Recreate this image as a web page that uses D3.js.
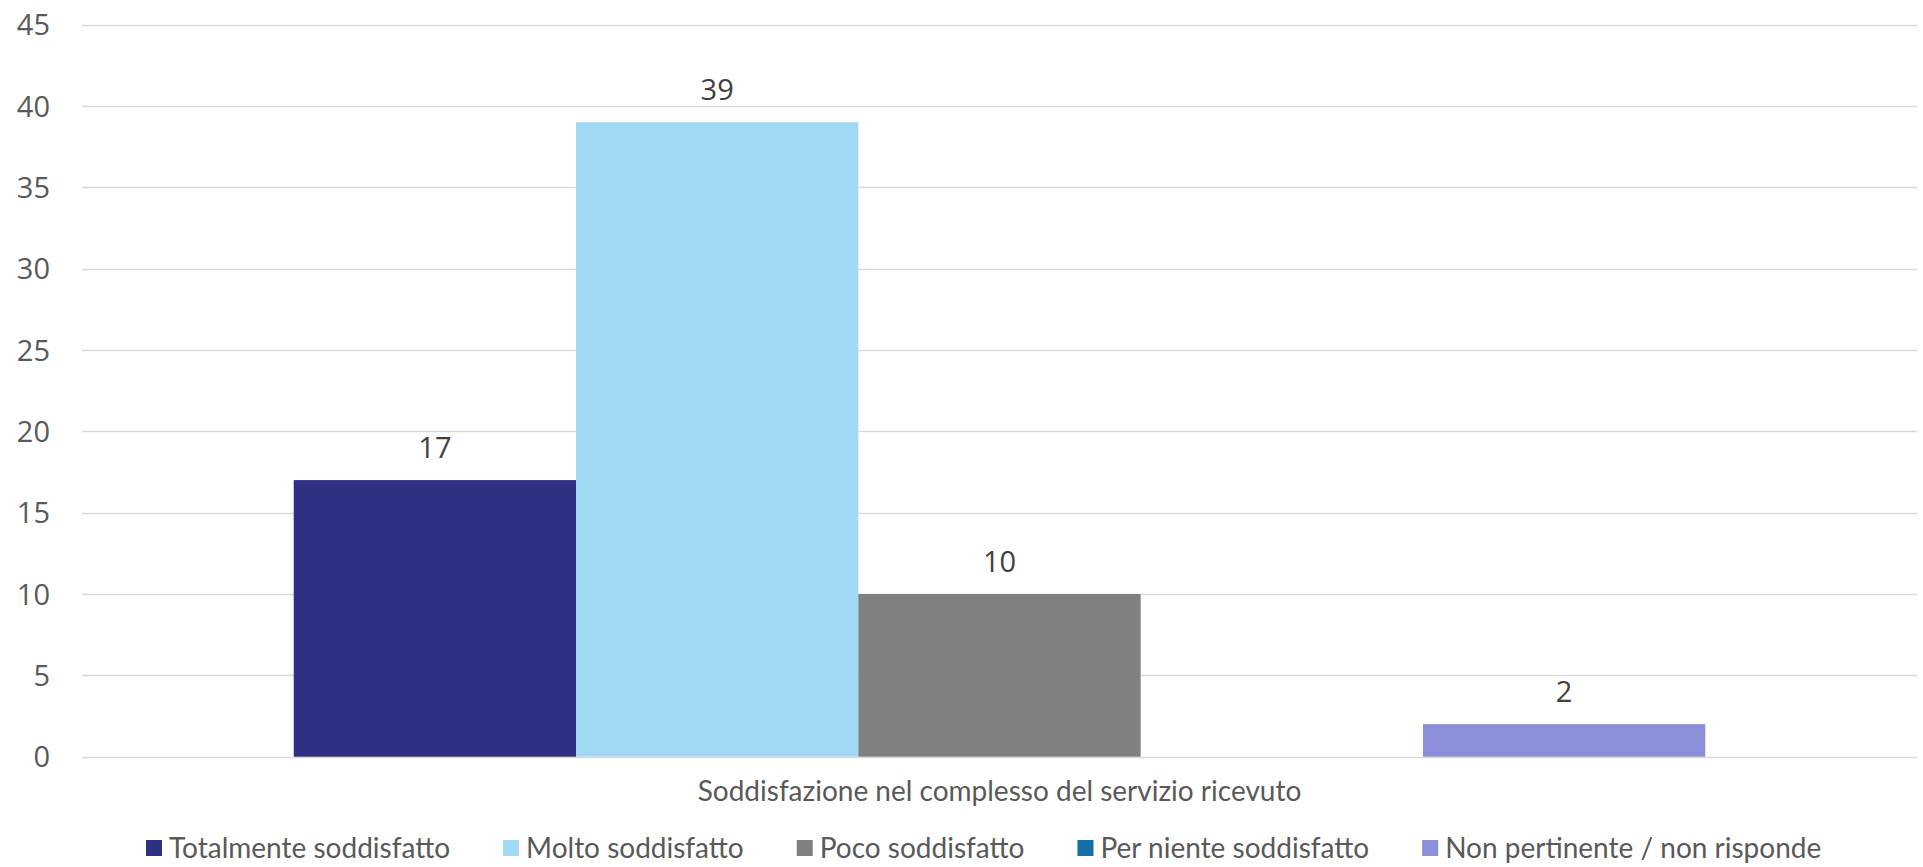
<!DOCTYPE html>
<html>
<head>
<meta charset="utf-8">
<script src="https://cdn.jsdelivr.net/npm/d3@7"></script>
<style>
  html, body { margin: 0; padding: 0; background: #ffffff; }
  svg { display: block; }
</style>
</head>
<body>
<svg id="chart" width="1923" height="867"></svg>
<script>
// Survey data: overall satisfaction with the service received
const categories = ["Soddisfazione nel complesso del servizio ricevuto"];
const seriesNames = [
  "Totalmente soddisfatto",
  "Molto soddisfatto",
  "Poco soddisfatto",
  "Per niente soddisfatto",
  "Non pertinente / non risponde"
];
const seriesValues = [17, 39, 10, 0, 2];
const seriesColors = ["#2E3084", "#A1D9F4", "#808080", "#1170AA", "#8B8ED8"];
const yTicks = [0, 5, 10, 15, 20, 25, 30, 35, 40, 45];

const svg = d3.select("#chart");
const plot = { left: 82, right: 1917, top: 24.5, bottom: 756.7 };

const y = d3.scaleLinear().domain([0, 45]).range([plot.bottom, plot.top]);
const x0 = d3.scaleBand().domain(categories).range([plot.left, plot.right]).padding(0);

// Excel-style gap width of 150% between category groups
const groupW = x0.bandwidth();
const barW = groupW / (seriesNames.length + 1.5);
const x1 = d3.scaleBand().domain(seriesNames)
  .range([barW * 0.75, groupW - barW * 0.75]).padding(0);

// Gridlines
svg.append("g")
  .selectAll("line")
  .data(yTicks)
  .join("line")
  .attr("x1", plot.left).attr("x2", plot.right)
  .attr("y1", d => Math.round(y(d)) + 0.5).attr("y2", d => Math.round(y(d)) + 0.5)
  .attr("stroke", "#D9D9D9").attr("stroke-width", 1.5);

// Y axis labels
const yAxis = d3.axisLeft(y).tickValues(yTicks).tickSize(0).tickPadding(0);
const yG = svg.append("g").attr("transform", `translate(${plot.left - 32},0)`).call(yAxis);
yG.select(".domain").remove();
yG.selectAll("text")
  .attr("font-family", "'Open Sans', sans-serif")
  .attr("font-size", 29)
  .attr("fill", "#595959")
  .attr("dy", "0.35em");

// Bars
const groups = svg.append("g")
  .selectAll("g")
  .data(categories)
  .join("g")
  .attr("transform", d => `translate(${x0(d)},0)`);

const barData = seriesNames.map((s, i) => ({ s, v: seriesValues[i], c: seriesColors[i] }));

groups.selectAll("rect")
  .data(barData)
  .join("rect")
  .attr("x", d => x1(d.s))
  .attr("width", x1.bandwidth())
  .attr("y", d => y(d.v))
  .attr("height", d => y(0) - y(d.v))
  .attr("fill", d => d.c);

// Value labels
groups.selectAll("text.val")
  .data(barData.filter(d => d.v > 0))
  .join("text")
  .attr("class", "val")
  .attr("x", d => x1(d.s) + x1.bandwidth() / 2)
  .attr("y", d => y(d.v) - 32)
  .attr("dy", "0.35em")
  .attr("text-anchor", "middle")
  .attr("font-family", "'Open Sans', sans-serif")
  .attr("font-size", 29)
  .attr("fill", "#404040")
  .text(d => d.v);

// Category axis label
svg.append("g")
  .selectAll("text")
  .data(categories)
  .join("text")
  .attr("x", d => x0(d) + groupW / 2)
  .attr("y", 791)
  .attr("dy", "0.35em")
  .attr("text-anchor", "middle")
  .attr("font-family", "Lato, sans-serif")
  .attr("font-size", 28)
  .attr("fill", "#595959")
  .text(d => d);

// Legend
const legend = svg.append("g");
const legendFont = 28, sq = 16, sqGap = 7, itemGap = 53;
let lx = 146;
const legendY = 848;
seriesNames.forEach((s, i) => {
  const it = legend.append("g");
  it.append("rect")
    .attr("x", lx).attr("y", legendY - sq / 2)
    .attr("width", sq).attr("height", sq)
    .attr("fill", seriesColors[i]);
  const t = it.append("text")
    .attr("x", lx + sq + sqGap)
    .attr("y", legendY)
    .attr("dy", "0.35em")
    .attr("font-family", "Lato, sans-serif")
    .attr("font-size", legendFont)
    .attr("fill", "#595959")
    .text(s);
  lx += sq + sqGap + t.node().getComputedTextLength() + itemGap;
});
</script>
</body>
</html>
